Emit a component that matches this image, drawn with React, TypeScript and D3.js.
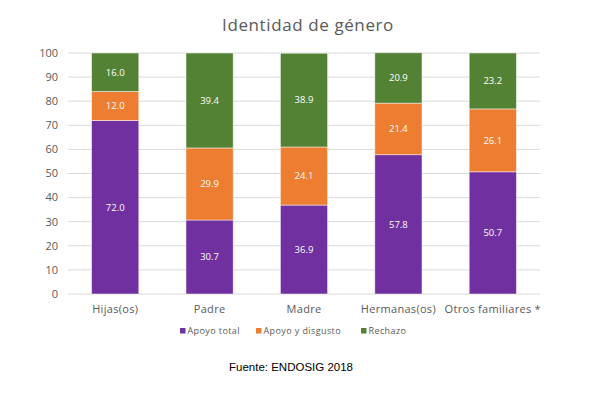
import { useEffect } from 'react'
import { scaleBand, scaleLinear, stack } from 'd3'

const categories = ['Hijas(os)', 'Padre', 'Madre', 'Hermanas(os)', 'Otros familiares *']
const apoyoTotal = [72.0, 30.7, 36.9, 57.8, 50.7]
const apoyoDisgusto = [12.0, 29.9, 24.1, 21.4, 26.1]
const rechazo = [16.0, 39.4, 38.9, 20.9, 23.2]
const seriesNames = ['Apoyo total', 'Apoyo y disgusto', 'Rechazo']
const seriesColors = ['#7030A0', '#ED7D31', '#548235']
const yTicks = [0, 10, 20, 30, 40, 50, 60, 70, 80, 90, 100]

const width = 598
const height = 393
const margin = { top: 53, right: 58, bottom: 99, left: 68 }
const font = "'Open Sans', 'Noto Sans', sans-serif"

export default function App() {
  useEffect(() => {
    document.body.style.margin = '0'
  }, [])

  const rows = categories.map((category, i) => ({
    category,
    a: apoyoTotal[i],
    b: apoyoDisgusto[i],
    c: rechazo[i],
  }))
  const layers = stack<(typeof rows)[number]>().keys(['a', 'b', 'c'])(rows)

  const x = scaleBand()
    .domain(categories)
    .range([margin.left, width - margin.right])
    .paddingInner(0.5)
    .paddingOuter(0.25)
  const y = scaleLinear()
    .domain([0, 100])
    .range([height - margin.bottom, margin.top])

  const legendX = [180, 256, 361]

  return (
    <svg width={width} height={height} style={{ display: 'block', background: '#fff' }}>
      <text
        x={308}
        y={31}
        textAnchor="middle"
        fontFamily={font}
        fontSize={17}
        fill="#595959"
        letterSpacing={0.6}
      >
        Identidad de género
      </text>

      {yTicks.map(t => (
        <g key={t}>
          <line
            x1={margin.left}
            x2={width - margin.right}
            y1={y(t)}
            y2={y(t)}
            stroke="#d9d9d9"
            strokeWidth={1}
          />
          <text
            x={58}
            y={y(t)}
            dy="0.35em"
            textAnchor="end"
            fontFamily={font}
            fontSize={11}
            fill="#595959"
          >
            {t}
          </text>
        </g>
      ))}

      {layers.map((layer, si) => (
        <g key={layer.key}>
          {layer.map(d => {
            const x0 = x(d.data.category) ?? 0
            const top = y(d[1])
            const bottom = y(d[0])
            const value = d[1] - d[0]
            return (
              <g key={d.data.category}>
                <rect
                  x={x0}
                  y={top}
                  width={x.bandwidth()}
                  height={bottom - top}
                  fill={seriesColors[si]}
                  stroke="#ffffff"
                  strokeOpacity={0.6}
                  strokeWidth={0.8}
                />
                <text
                  x={x0 + x.bandwidth() / 2}
                  y={(top + bottom) / 2}
                  dy="0.35em"
                  textAnchor="middle"
                  fontFamily={font}
                  fontSize={9.5}
                  fill="#ffffff"
                >
                  {value.toFixed(1)}
                </text>
              </g>
            )
          })}
        </g>
      ))}

      {categories.map(c => (
        <text
          key={c}
          x={(x(c) ?? 0) + x.bandwidth() / 2}
          y={313}
          textAnchor="middle"
          fontFamily={font}
          fontSize={11}
          fill="#595959"
          letterSpacing={0.3}
        >
          {c}
        </text>
      ))}

      {seriesNames.map((name, i) => (
        <g key={name} transform={`translate(${legendX[i]}, 331)`}>
          <rect x={0} y={-3} width={5.5} height={5.5} fill={seriesColors[i]} />
          <text
            x={7.5}
            y={0}
            dy="0.35em"
            fontFamily={font}
            fontSize={9}
            fill="#595959"
            letterSpacing={0.4}
          >
            {name}
          </text>
        </g>
      ))}

      <text
        x={291}
        y={371}
        textAnchor="middle"
        fontFamily="'Liberation Sans', 'Open Sans', sans-serif"
        fontSize={11.5}
        fill="#000000"
      >
        Fuente: ENDOSIG 2018
      </text>
    </svg>
  )
}
